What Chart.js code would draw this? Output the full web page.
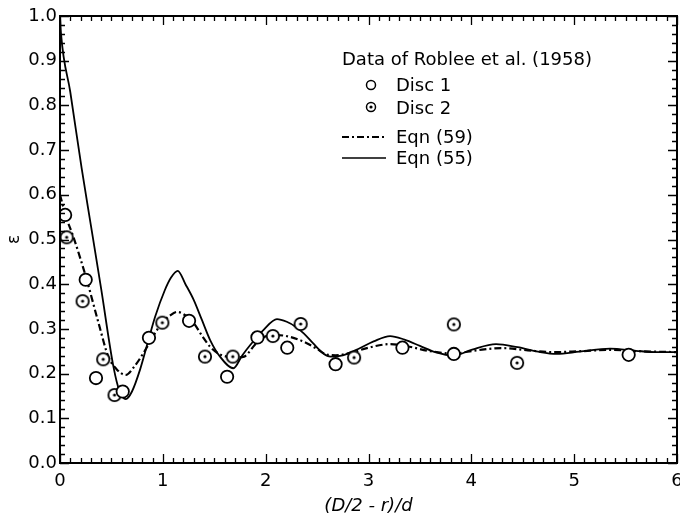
<!DOCTYPE html>
<html><head><meta charset="utf-8">
<script src="https://cdn.jsdelivr.net/npm/chart.js@4.4.1/dist/chart.umd.min.js"></script>
<style>html,body{margin:0;padding:0;background:#fff}</style>
</head><body>
<canvas id="c" width="680" height="522"></canvas>
<script>
// ---- data ----
const disc1X = [0.05, 0.25, 0.35, 0.61, 0.865, 1.255, 1.625, 1.92, 2.21, 2.68, 3.33, 3.83, 5.53];
const disc1Y = [0.555, 0.41, 0.19, 0.16, 0.28, 0.318, 0.193, 0.281, 0.258, 0.221, 0.258, 0.244, 0.242];

const disc2X = [0.065, 0.22, 0.42, 0.53, 0.995, 1.41, 1.68, 2.07, 2.34, 2.86, 3.83, 4.445];
const disc2Y = [0.505, 0.362, 0.232, 0.152, 0.314, 0.238, 0.238, 0.284, 0.311, 0.236, 0.31, 0.224];

const eqn55X = [0, 0.01, 0.1, 0.21, 0.3, 0.4, 0.52, 0.58, 0.64, 0.7, 0.78, 0.86, 0.925, 1.02, 1.08, 1.145, 1.22, 1.3, 1.38, 1.46, 1.556, 1.686, 1.77, 1.85, 1.98, 2.11, 2.205, 2.29, 2.37, 2.46, 2.56, 2.63, 2.75, 2.9, 3.05, 3.21, 3.35, 3.5, 3.65, 3.82, 4.0, 4.24, 4.45, 4.65, 4.83, 5.05, 5.35, 5.6, 5.8, 6.0];
const eqn55Y = [1.0, 0.96, 0.83, 0.66, 0.532, 0.39, 0.215, 0.16, 0.143, 0.16, 0.21, 0.275, 0.327, 0.387, 0.415, 0.43, 0.4, 0.365, 0.32, 0.275, 0.238, 0.212, 0.24, 0.264, 0.298, 0.322, 0.316, 0.305, 0.29, 0.268, 0.245, 0.238, 0.241, 0.255, 0.272, 0.284, 0.276, 0.262, 0.248, 0.24, 0.253, 0.266, 0.259, 0.249, 0.244, 0.249, 0.256, 0.251, 0.248, 0.248];

const eqn59X = [0, 0.06, 0.13, 0.26, 0.375, 0.47, 0.55, 0.64, 0.72, 0.83, 0.91, 0.99, 1.07, 1.14, 1.22, 1.3, 1.38, 1.46, 1.54, 1.62, 1.72, 1.79, 1.91, 2.04, 2.12, 2.24, 2.4, 2.5, 2.59, 2.68, 2.85, 3.0, 3.21, 3.4, 3.6, 3.82, 4.05, 4.3, 4.55, 4.8, 5.05, 5.35, 5.65, 6.0];
const eqn59Y = [0.6, 0.55, 0.506, 0.41, 0.313, 0.238, 0.21, 0.197, 0.215, 0.253, 0.285, 0.313, 0.33, 0.338, 0.33, 0.313, 0.285, 0.26, 0.245, 0.238, 0.236, 0.238, 0.268, 0.286, 0.286, 0.282, 0.268, 0.255, 0.243, 0.241, 0.248, 0.258, 0.266, 0.26, 0.25, 0.245, 0.252, 0.257, 0.252, 0.248, 0.25, 0.253, 0.25, 0.248];

const legendTitle = 'Data of Roblee et al. (1958)';
const seriesNames = ['Disc 1', 'Disc 2', 'Eqn (59)', 'Eqn (55)'];
const xTitle = '(D/2 - r)/d';
const yTitle = 'ε';
const xTickValues = [0, 1, 2, 3, 4, 5, 6];
const yTickValues = [0, 0.1, 0.2, 0.3, 0.4, 0.5, 0.6, 0.7, 0.8, 0.9, 1.0];

// ---- helpers ----
const pts = (xs, ys) => xs.map((x, i) => ({x: x, y: ys[i]}));
const FONT = '"DejaVu Sans", "Liberation Sans", sans-serif';

function circleMarker(r, lw, dot) {
  const s = 2 * Math.ceil(r + lw / 2 + 1);
  const c = document.createElement('canvas');
  c.width = s; c.height = s;
  const g = c.getContext('2d');
  g.fillStyle = '#fff'; g.strokeStyle = '#000'; g.lineWidth = lw;
  g.beginPath(); g.arc(s / 2, s / 2, r, 0, 2 * Math.PI); g.fill(); g.stroke();
  if (dot) { g.fillStyle = '#000'; g.beginPath(); g.arc(s / 2, s / 2, 1.6, 0, 2 * Math.PI); g.fill(); }
  return c;
}
const mk2 = circleMarker(6.2, 1.8, true);
const lg1 = circleMarker(4.5, 1.5, false);
const lg2 = circleMarker(4.5, 1.5, true);

const framePlugin = {
  id: 'frameTicks',
  afterDraw(chart) {
    const {ctx, chartArea: a, scales: {x, y}} = chart;
    ctx.save();
    ctx.strokeStyle = '#000';
    ctx.lineWidth = 1.3;
    ctx.beginPath();
    for (let i = 0; i <= 60; i++) {
      const v = i / 10, px = Math.round(x.getPixelForValue(v)) + 0.5;
      const L = (i % 10 === 0) ? 9 : 5;
      ctx.moveTo(px, a.bottom); ctx.lineTo(px, a.bottom - L);
      ctx.moveTo(px, a.top); ctx.lineTo(px, a.top + L);
    }
    for (let i = 0; i <= 50; i++) {
      const v = i / 50, py = Math.round(y.getPixelForValue(v)) + 0.5;
      const L = (i % 5 === 0) ? 9 : 5;
      ctx.moveTo(a.left, py); ctx.lineTo(a.left + L, py);
      ctx.moveTo(a.right, py); ctx.lineTo(a.right - L, py);
    }
    ctx.stroke();
    ctx.lineWidth = 2;
    ctx.strokeRect(a.left, a.top, a.right - a.left, a.bottom - a.top);

    // legend
    ctx.fillStyle = '#000';
    ctx.font = '18px ' + FONT;
    ctx.textAlign = 'left';
    ctx.textBaseline = 'alphabetic';
    ctx.fillText(legendTitle, 342, 65);
    ctx.drawImage(lg1, 371 - lg1.width / 2, 85 - lg1.height / 2);
    ctx.fillText(seriesNames[0], 396, 91);
    ctx.drawImage(lg2, 371 - lg2.width / 2, 107 - lg2.height / 2);
    ctx.fillText(seriesNames[1], 396, 113.5);
    ctx.lineWidth = 2;
    ctx.setLineDash([7, 3, 2, 3]);
    ctx.beginPath(); ctx.moveTo(342, 137); ctx.lineTo(386, 137); ctx.stroke();
    ctx.setLineDash([]);
    ctx.fillText(seriesNames[2], 396, 143);
    ctx.lineWidth = 1.7;
    ctx.beginPath(); ctx.moveTo(342, 158); ctx.lineTo(386, 158); ctx.stroke();
    ctx.fillText(seriesNames[3], 396, 164);
    ctx.restore();
  }
};

new Chart(document.getElementById('c'), {
  type: 'scatter',
  data: {
    datasets: [
      {label: seriesNames[0], data: pts(disc1X, disc1Y), pointStyle: 'circle', pointRadius: 6.2, pointBorderWidth: 1.8, pointBorderColor: '#000', pointBackgroundColor: '#fff', showLine: false},
      {label: seriesNames[1], data: pts(disc2X, disc2Y), pointStyle: mk2, pointRadius: 6, showLine: false},
      {label: seriesNames[2], data: pts(eqn59X, eqn59Y), showLine: true, pointRadius: 0, borderColor: '#000', borderWidth: 2.2, borderDash: [7, 3, 2, 3], cubicInterpolationMode: 'monotone', fill: false},
      {label: seriesNames[3], data: pts(eqn55X, eqn55Y), showLine: true, pointRadius: 0, borderColor: '#000', borderWidth: 1.8, cubicInterpolationMode: 'monotone', fill: false}
    ]
  },
  options: {
    responsive: false,
    animation: false,
    devicePixelRatio: 1,
    layout: {autoPadding: false, padding: {top: 16, right: 3, left: 0, bottom: 0}},
    plugins: {legend: {display: false}, tooltip: {enabled: false}},
    scales: {
      x: {
        type: 'linear', min: 0, max: 6,
        afterBuildTicks: s => { s.ticks = xTickValues.map(v => ({value: v})); },
        grid: {display: false, drawTicks: false},
        border: {display: false},
        ticks: {color: '#000', padding: 8, font: {family: FONT, size: 18}, maxRotation: 0, callback: v => String(v)},
        title: {display: true, text: xTitle, color: '#000', font: {family: FONT, size: 18, style: 'italic'}, padding: {top: 0, bottom: 5}},
        afterFit: s => { s.height = 59; s.paddingLeft = 0; s.paddingRight = 0; }
      },
      y: {
        type: 'linear', min: 0, max: 1,
        afterBuildTicks: s => { s.ticks = yTickValues.map(v => ({value: v})); },
        grid: {display: false, drawTicks: false},
        border: {display: false},
        ticks: {color: '#000', padding: 3, font: {family: FONT, size: 18}, callback: v => Number(v).toFixed(1)},
        title: {display: true, text: yTitle, color: '#000', font: {family: FONT, size: 17}, padding: {top: 4, bottom: 0}},
        afterFit: s => { s.width = 60; s.paddingTop = 0; s.paddingBottom = 0; }
      }
    }
  },
  plugins: [framePlugin]
});
</script>
</body></html>
